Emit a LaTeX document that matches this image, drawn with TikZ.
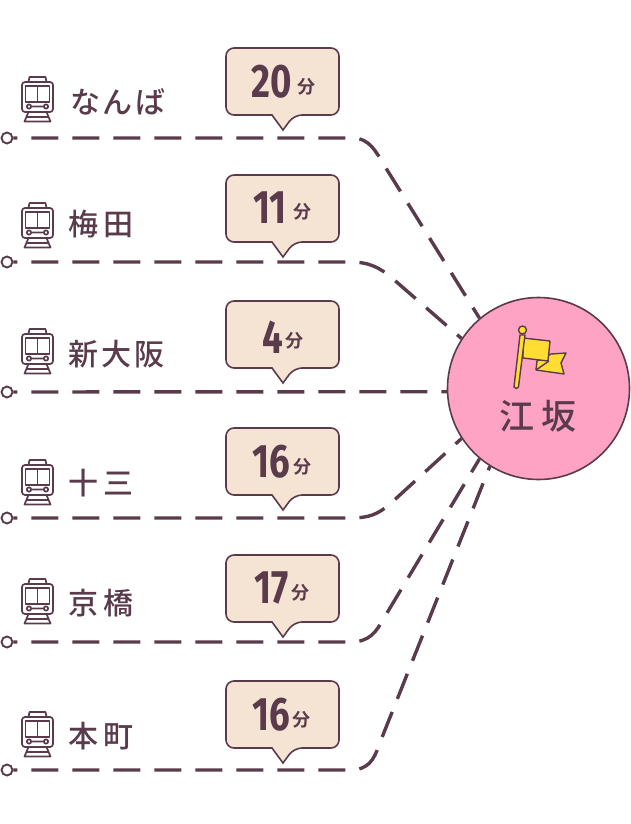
\documentclass[tikz,border=0pt]{standalone}
\usepackage{fontspec}
\setmainfont{Noto Sans CJK JP}
\newfontfamily\jpfont[LetterSpace=9]{Noto Sans CJK JP Medium}
\newfontfamily\jpwide[LetterSpace=16]{Noto Sans CJK JP Medium}
\newfontfamily\hubfont[LetterSpace=18]{Noto Sans CJK JP Medium}
\newfontfamily\numfont[FakeStretch=0.78]{Fira Sans}
\newfontfamily\fenfont{Noto Sans CJK JP Bold}
\definecolor{ink}{HTML}{5A3B4C}
\definecolor{tan}{HTML}{F5E3D3}
\definecolor{pinkhub}{HTML}{FFA3C4}
\definecolor{flagy}{HTML}{FFDD33}
\tikzset{
 route/.style={ink,line width=3.4pt,dash pattern=on 27pt off 14pt,dash phase=23pt},
 endring/.style={circle,draw=ink,line width=1.9pt,fill=white,inner sep=0pt,minimum size=11pt},
 stationname/.style={anchor=west,inner sep=0pt,text=ink,font=\fontsize{30}{30}\jpfont},
 widename/.style={anchor=west,inner sep=0pt,text=ink,font=\fontsize{30}{30}\jpwide},
 bubble/.style={draw=ink,line width=1.6pt,fill=tan,line join=miter},
 iconline/.style={draw=ink,line width=1.7pt,line join=round,line cap=round},
 mins/.style={inner sep=0pt,text=ink,font=\fontsize{47}{47}\numfont\bfseries},
 fen/.style={inner sep=0pt,text=ink,font=\fontsize{18}{18}\fenfont},
 flagpart/.style={draw=ink,line width=1.4pt,fill=flagy,line join=round}
}
\newcommand{\trainicon}[2]{%
 \begin{scope}[shift={(#1,#2)}]
  \draw[iconline,rounded corners=3pt] (-15.5,6) -- (-15.5,36) -- (15.5,36) -- (15.5,6) -- cycle;
  \draw[iconline] (-9,6) -- (-8,1) -- (8,1) -- (9,6);
  \draw[iconline] (-12,10) rectangle (12,26);
  \draw[iconline] (0,10) -- (0,26);
  \draw[iconline] (-8.5,30.5) circle (2.2) (8.5,30.5) circle (2.2) (-5,30.5) -- (5,30.5);
  \draw[iconline] (-9,36) -- (-13,45.5) -- (13,45.5) -- (9,36) (-10.5,41) -- (10.5,41);
 \end{scope}}
\newcommand{\tipbubble}[1]{%
 \draw[bubble] (272,#1+67) [rounded corners=8pt] -- (226,#1+67) -- (226,#1) -- (339,#1) -- (339,#1+67) -- (294,#1+67) [sharp corners] -- (283,#1+82) -- cycle;}
\begin{document}
\begin{tikzpicture}[x=1pt,y=-1pt]
\useasboundingbox (0,0) rectangle (630,824);
\node[circle,draw=ink,line width=1.6pt,fill=pinkhub,minimum size=182pt,inner sep=0pt] (hub) at (538.5,388.5) {};
\node[endring] (s1) at (7,138) {};
\node[endring] (s2) at (7,262) {};
\node[endring] (s3) at (7,392) {};
\node[endring] (s4) at (7,518) {};
\node[endring] (s5) at (7,642) {};
\node[endring] (s6) at (7,770) {};
\draw[route] (s1) -- (352,138) .. controls (370,138) and (376,152) .. (384,165) -- (hub.130);
\draw[route] (s2) -- (350,262) .. controls (370,262) and (380,268) .. (392,278) -- (hub.147);
\draw[route] (s3) -- (hub.182);
\draw[route] (s4) -- (350,518) .. controls (370,518) and (378,514) .. (390,504) -- (hub.213);
\draw[route] (s5) -- (350,642) .. controls (370,642) and (376,632) .. (384,618) -- (hub.230);
\draw[route] (s6) -- (350,770) .. controls (368,770) and (374,760) .. (379,745) -- (hub.238);
\trainicon{37.5}{76}\trainicon{37.5}{202}\trainicon{37.5}{328}\trainicon{37.5}{459}\trainicon{37.5}{578}\trainicon{37.5}{711}
\node[stationname] (n1) at (70,102) {なんば};
\node[widename] (n2) at (68.5,224) {梅田};
\node[stationname] (n3) at (68.5,354) {新大阪};
\node[widename] (n4) at (68.5,483) {十三};
\node[widename] (n5) at (68.5,603) {京橋};
\node[widename] (n6) at (68.5,736) {本町};
\tipbubble{48}\tipbubble{175}\tipbubble{301}\tipbubble{428}\tipbubble{555}\tipbubble{681}
\node[mins] (m1) at (272,82) {20};  \node[fen] (f1) at (306,87) {分};
\node[mins] (m2) at (270,208) {11}; \node[fen] (f2) at (302,212) {分};
\node[mins] (m3) at (273,337) {4};  \node[fen] (f3) at (294,341) {分};
\node[mins] (m4) at (271,462) {16}; \node[fen] (f4) at (302,467) {分};
\node[mins] (m5) at (272,588) {17}; \node[fen] (f5) at (300,593) {分};
\node[mins] (m6) at (271,715) {16}; \node[fen] (f6) at (301,720) {分};
\draw[flagpart] (537,361) -- (551,354) -- (566,353) -- (561,363) -- (564,374) -- (536,370) -- cycle;
\draw[flagpart] (523,338) -- (550,341) -- (548,361) -- (523,358) -- cycle;
\draw[flagpart] (536,370) -- (549,361);
\draw[flagpart] (520,335) -- (525,335) -- (518.5,387) .. controls (517.5,389) and (515,389) .. (514,387) -- cycle;
\draw[flagpart] (522.5,330) circle (4);
\node[inner sep=0pt,text=ink,font=\fontsize{35}{35}\hubfont] (hubname) at (538,416) {江坂};
\end{tikzpicture}
\end{document}
